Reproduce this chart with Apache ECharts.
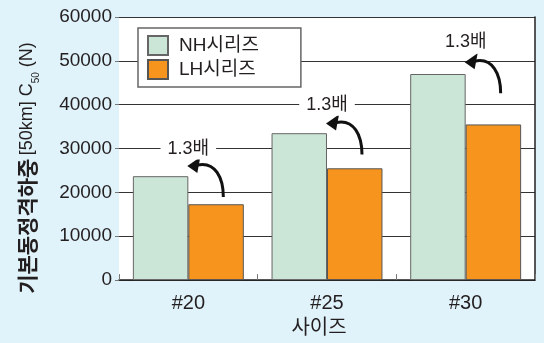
<!DOCTYPE html>
<html><head><meta charset="utf-8">
<script src="https://cdn.jsdelivr.net/npm/echarts@6/dist/echarts.min.js"></script>
<style>html,body{margin:0;padding:0;background:#e0f2fa;} #c{width:544px;height:343px;}</style>
</head><body><div id="c"></div>
<script>
const categories = ['#20', '#25', '#30'];
const seriesNames = ['NH시리즈', 'LH시리즈'];
const nhValues = [23700, 33500, 47000];
const lhValues = [17300, 25500, 35500];
const ratioLabels = ['1.3배', '1.3배', '1.3배'];
const ratioLabelValues = [30000, 40000, 54200];
const arrowTipValues = [26000, 35700, 49700];
const yMin = 0, yMax = 60000, yInterval = 10000;
const yTitle = '{k|기본동정격하중} {n|[50km] C}{s|50}{n| (N)}';
const xTitle = '사이즈';

const FONT = '"Liberation Sans", "Noto Sans CJK KR", sans-serif';
const chart = echarts.init(document.getElementById('c'), null, {renderer: 'canvas'});

const annotData = categories.map((c, i) => [i, arrowTipValues[i], ratioLabelValues[i]]);

chart.setOption({
  animation: false,
  backgroundColor: '#e0f2fa',
  textStyle: {fontFamily: FONT},
  grid: {left: 119, right: 9, top: 17, bottom: 55, show: true, backgroundColor: '#ffffff', borderWidth: 0},
  legend: {
    orient: 'vertical', left: 138, top: 28,
    data: seriesNames,
    icon: 'rect', itemWidth: 20, itemHeight: 19, itemGap: 3,
    padding: [7, 42, 7, 9],
    backgroundColor: '#ffffff', borderColor: '#666', borderWidth: 1.5,
    textStyle: {fontFamily: FONT, fontSize: 19, color: '#231f20', width: 90, padding: [0, 0, 0, 6]}
  },
  graphic: [{
    type: 'text', x: 27, y: 168, rotation: Math.PI / 2, z: 100,
    style: {
      text: yTitle, align: 'center', verticalAlign: 'middle', fill: '#231f20',
      rich: {
        k: {fontSize: 21, fontWeight: 'bold', fontFamily: '"Noto Sans CJK KR", sans-serif', fill: '#231f20'},
        n: {fontSize: 18, fontFamily: FONT, fill: '#231f20'},
        s: {fontSize: 10, fontFamily: FONT, fill: '#231f20', verticalAlign: 'bottom', padding: [0, 0, -4, 0]}
      }
    }
  }],
  xAxis: {
    type: 'category', data: categories,
    axisLine: {lineStyle: {color: '#231f20', width: 1.5}},
    axisTick: {show: true, inside: true, length: 6, lineStyle: {color: '#777'}},
    axisLabel: {fontSize: 20, color: '#231f20', margin: 13, fontFamily: FONT},
    name: xTitle, nameLocation: 'middle', nameGap: 33,
    nameTextStyle: {fontSize: 20, color: '#231f20', fontFamily: FONT, padding: [0, 16, 0, 0]}
  },
  yAxis: [{
    type: 'value', min: yMin, max: yMax, interval: yInterval,
    axisLine: {show: false},
    axisTick: {show: true, length: 4, lineStyle: {color: '#777'}},
    axisLabel: {fontSize: 19, color: '#231f20', margin: 7, fontFamily: FONT, formatter: v => String(v)},
    splitLine: {lineStyle: {color: '#333', width: 1}}
  }, {
    type: 'value', min: yMin, max: yMax, interval: yInterval, position: 'right',
    axisLine: {show: true, lineStyle: {color: '#231f20', width: 1.5}},
    axisTick: {show: false}, axisLabel: {show: false}, splitLine: {show: false}
  }],
  series: [{
    name: seriesNames[0], type: 'bar', data: nhValues,
    barGap: '0%', barCategoryGap: '20%',
    itemStyle: {color: '#cbe6d6', borderColor: '#666', borderWidth: 1}
  }, {
    name: seriesNames[1], type: 'bar', data: lhValues,
    itemStyle: {color: '#f7941d', borderColor: '#555', borderWidth: 1}
  }, {
    type: 'custom', data: annotData, z: 10, silent: true,
    renderItem: function (params, api) {
      const i = api.value(0);
      const tip = api.coord([i, api.value(1)]);
      const lab = api.coord([i, api.value(2)]);
      const tx = tip[0] - 1, ty = tip[1];
      return {
        type: 'group',
        children: [
          {type: 'bezierCurve',
           shape: {x1: tx + 36, y1: ty + 31, cpx1: tx + 36, cpy1: ty + 12, cpx2: tx + 28, cpy2: ty - 5, x2: tx + 10, y2: ty - 1},
           style: {stroke: '#111', lineWidth: 3, fill: null}},
          {type: 'polygon',
           shape: {points: [[tx, ty], [tx + 13, ty - 9], [tx + 10, ty + 7]]},
           style: {fill: '#111'}},
          {type: 'text', x: lab[0], y: lab[1],
           style: {text: ratioLabels[params.dataIndex], font: '18px ' + FONT, fill: '#231f20',
                   align: 'center', verticalAlign: 'middle', backgroundColor: '#ffffff', padding: [2, 7]}}
        ]
      };
    }
  }]
});
</script></body></html>
